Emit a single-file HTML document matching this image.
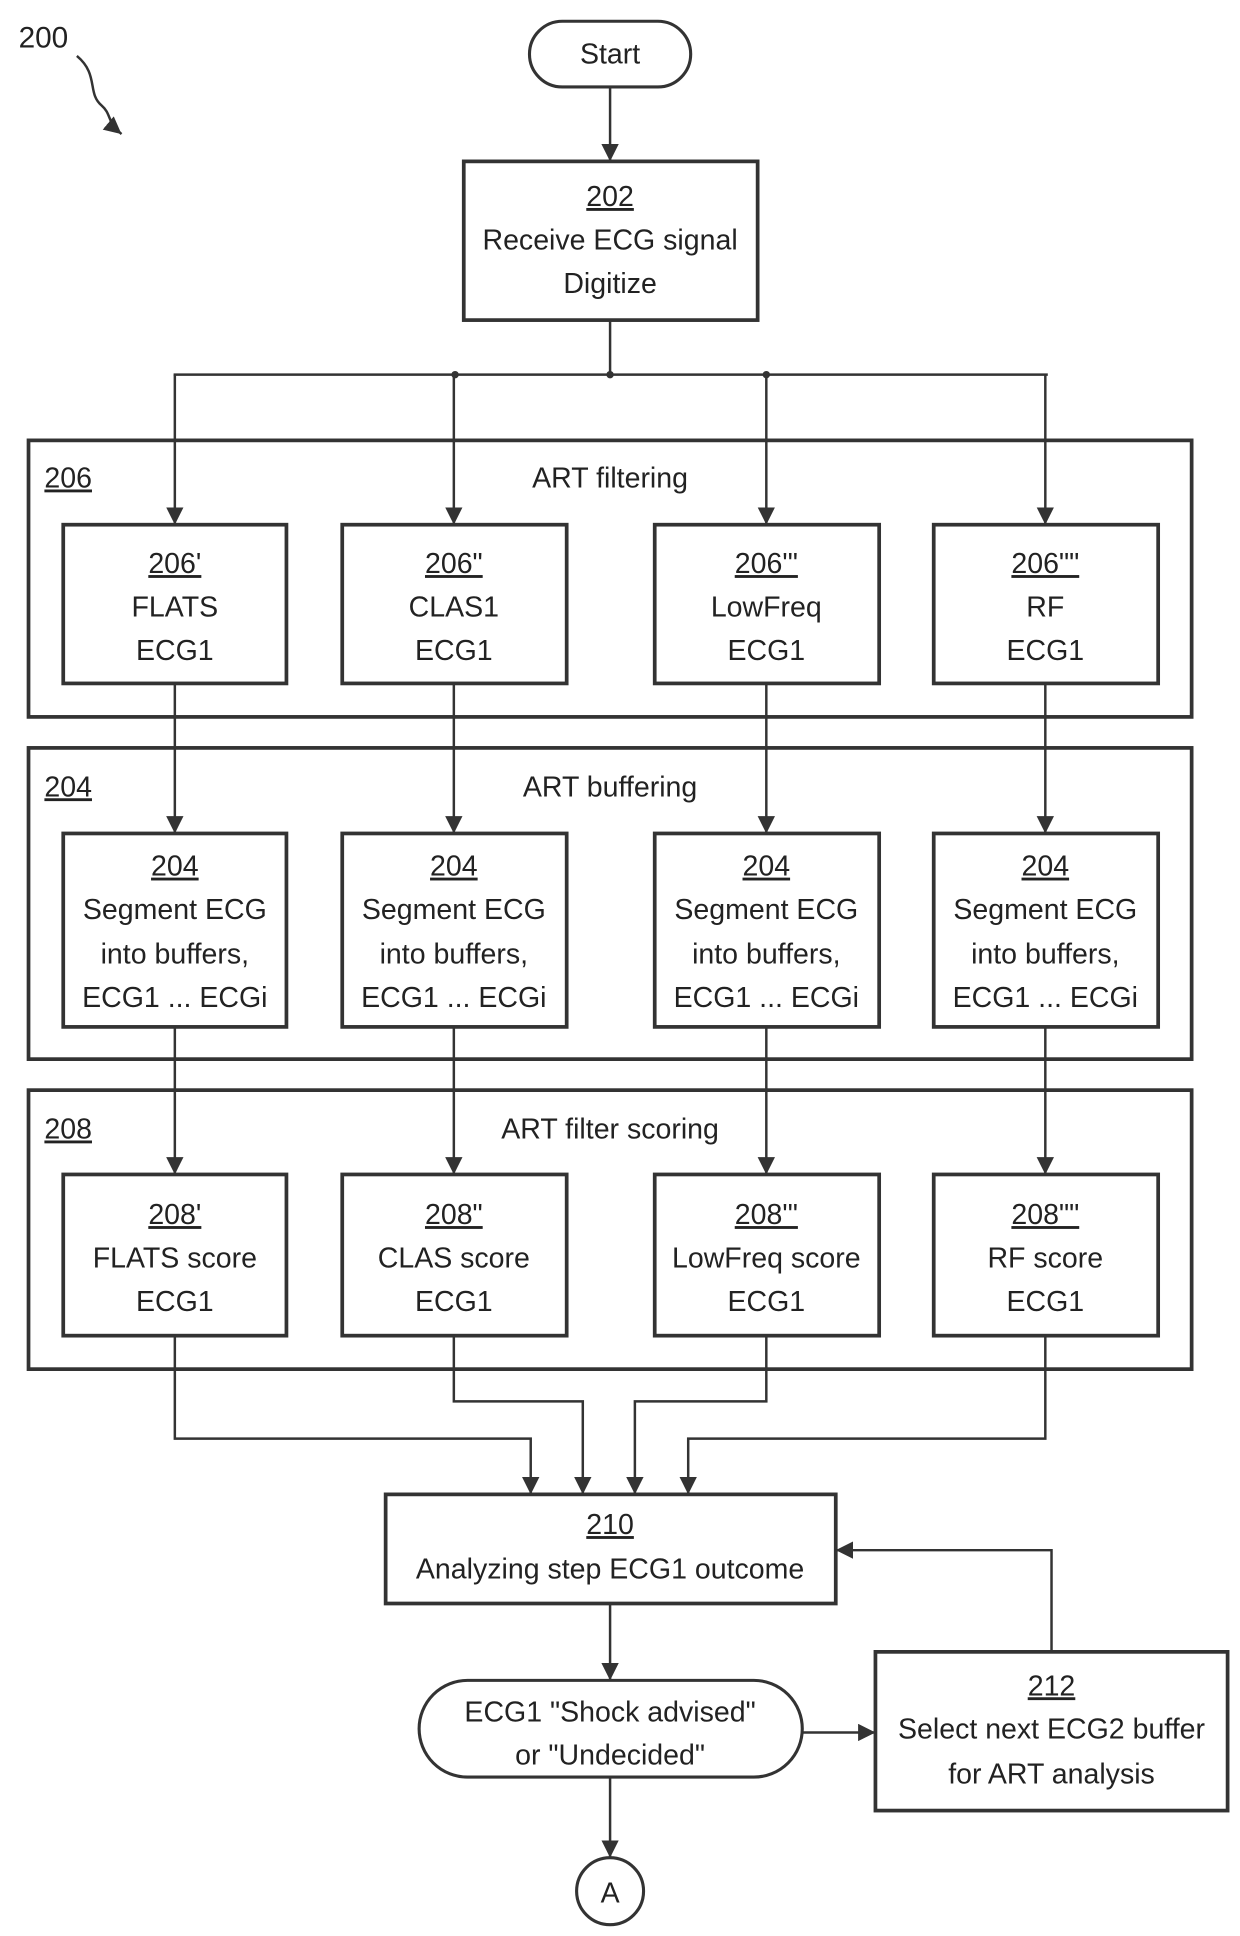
<!DOCTYPE html>
<html><head><meta charset="utf-8"><style>html,body{margin:0;padding:0;background:#fff}svg{display:block}</style></head>
<body>
<svg width="1240" height="1936" viewBox="0 0 1000 1561" xmlns="http://www.w3.org/2000/svg" font-family="'Liberation Sans Narrow','Liberation Sans',sans-serif" font-size="23" fill="#222">
<defs><marker id="a" viewBox="0 0 10 10" refX="10" refY="5" markerWidth="7" markerHeight="7" orient="auto"><path d="M0,0L10,5L0,10z" fill="#333"/></marker></defs>
<g stroke="#333" fill="none" stroke-width="2">
<!-- 200 squiggle -->
<path d="M62,45 C80,60 70,75 82,85 C90,92 86,98 98,108" marker-end="url(#a)"/>
<rect x="427" y="17" width="130" height="53" rx="26.5" stroke-width="2.5"/>
<line x1="492" y1="70" x2="492" y2="130" marker-end="url(#a)"/>
<rect x="374" y="130" width="237" height="128" stroke-width="3"/>
<line x1="492" y1="258" x2="492" y2="302"/>
<line x1="140" y1="302" x2="845" y2="302"/>
<line x1="141" y1="302" x2="141" y2="423" marker-end="url(#a)"/>
<line x1="366" y1="302" x2="366" y2="423" marker-end="url(#a)"/>
<line x1="618" y1="302" x2="618" y2="423" marker-end="url(#a)"/>
<line x1="843" y1="302" x2="843" y2="423" marker-end="url(#a)"/>
<rect x="23" y="355" width="938" height="223" stroke-width="3"/>
<rect x="23" y="603" width="938" height="251" stroke-width="3"/>
<rect x="23" y="879" width="938" height="225" stroke-width="3"/>
<g stroke-width="3">
<rect x="51" y="423" width="180" height="128"/><rect x="276" y="423" width="181" height="128"/><rect x="528" y="423" width="181" height="128"/><rect x="753" y="423" width="181" height="128"/>
<rect x="51" y="672" width="180" height="156"/><rect x="276" y="672" width="181" height="156"/><rect x="528" y="672" width="181" height="156"/><rect x="753" y="672" width="181" height="156"/>
<rect x="51" y="947" width="180" height="130"/><rect x="276" y="947" width="181" height="130"/><rect x="528" y="947" width="181" height="130"/><rect x="753" y="947" width="181" height="130"/>
</g>
<line x1="141" y1="551" x2="141" y2="672" marker-end="url(#a)"/>
<line x1="366" y1="551" x2="366" y2="672" marker-end="url(#a)"/>
<line x1="618" y1="551" x2="618" y2="672" marker-end="url(#a)"/>
<line x1="843" y1="551" x2="843" y2="672" marker-end="url(#a)"/>
<line x1="141" y1="828" x2="141" y2="947" marker-end="url(#a)"/>
<line x1="366" y1="828" x2="366" y2="947" marker-end="url(#a)"/>
<line x1="618" y1="828" x2="618" y2="947" marker-end="url(#a)"/>
<line x1="843" y1="828" x2="843" y2="947" marker-end="url(#a)"/>
<path d="M141,1077V1160H428V1205" marker-end="url(#a)"/>
<path d="M366,1077V1130H470V1205" marker-end="url(#a)"/>
<path d="M618,1077V1130H512V1205" marker-end="url(#a)"/>
<path d="M843,1077V1160H555V1205" marker-end="url(#a)"/>
<rect x="311" y="1205" width="363" height="88" stroke-width="3"/>
<line x1="492" y1="1293" x2="492" y2="1355" marker-end="url(#a)"/>
<rect x="338" y="1355" width="309" height="78" rx="39" stroke-width="2.5"/>
<line x1="647" y1="1397" x2="706" y2="1397" marker-end="url(#a)"/>
<rect x="706" y="1332" width="284" height="128" stroke-width="3"/>
<path d="M848,1332V1250H674" marker-end="url(#a)"/>
<line x1="492" y1="1433" x2="492" y2="1498" marker-end="url(#a)"/>
<circle cx="492" cy="1525" r="27" stroke-width="2.5"/>
</g>
<g fill="#333"><circle cx="492" cy="302" r="3"/><circle cx="367" cy="302" r="3"/><circle cx="618" cy="302" r="3"/></g>
<g text-anchor="middle">
<text x="35" y="38" font-size="24">200</text>
<text x="492" y="51">Start</text>
<text x="492" y="166" text-decoration="underline">202</text><text x="492" y="201">Receive ECG signal</text><text x="492" y="236">Digitize</text>
<text x="55" y="393" text-decoration="underline">206</text><text x="492" y="393">ART filtering</text>
<text x="55" y="642" text-decoration="underline">204</text><text x="492" y="642">ART buffering</text>
<text x="55" y="918" text-decoration="underline">208</text><text x="492" y="918">ART filter scoring</text>
<text x="141" y="462" text-decoration="underline">206'</text><text x="141" y="497">FLATS</text><text x="141" y="532">ECG1</text>
<text x="366" y="462" text-decoration="underline">206"</text><text x="366" y="497">CLAS1</text><text x="366" y="532">ECG1</text>
<text x="618" y="462" text-decoration="underline">206'"</text><text x="618" y="497">LowFreq</text><text x="618" y="532">ECG1</text>
<text x="843" y="462" text-decoration="underline">206""</text><text x="843" y="497">RF</text><text x="843" y="532">ECG1</text>
<g>
<text x="141" y="706" text-decoration="underline">204</text><text x="141" y="741">Segment ECG</text><text x="141" y="777">into buffers,</text><text x="141" y="812">ECG1 ... ECGi</text>
<text x="366" y="706" text-decoration="underline">204</text><text x="366" y="741">Segment ECG</text><text x="366" y="777">into buffers,</text><text x="366" y="812">ECG1 ... ECGi</text>
<text x="618" y="706" text-decoration="underline">204</text><text x="618" y="741">Segment ECG</text><text x="618" y="777">into buffers,</text><text x="618" y="812">ECG1 ... ECGi</text>
<text x="843" y="706" text-decoration="underline">204</text><text x="843" y="741">Segment ECG</text><text x="843" y="777">into buffers,</text><text x="843" y="812">ECG1 ... ECGi</text>
</g>
<text x="141" y="987" text-decoration="underline">208'</text><text x="141" y="1022">FLATS score</text><text x="141" y="1057">ECG1</text>
<text x="366" y="987" text-decoration="underline">208"</text><text x="366" y="1022">CLAS score</text><text x="366" y="1057">ECG1</text>
<text x="618" y="987" text-decoration="underline">208'"</text><text x="618" y="1022">LowFreq score</text><text x="618" y="1057">ECG1</text>
<text x="843" y="987" text-decoration="underline">208""</text><text x="843" y="1022">RF score</text><text x="843" y="1057">ECG1</text>
<text x="492" y="1237" text-decoration="underline">210</text><text x="492" y="1273">Analyzing step ECG1 outcome</text>
<text x="492" y="1388">ECG1 "Shock advised"</text><text x="492" y="1423">or "Undecided"</text>
<text x="848" y="1367" text-decoration="underline">212</text><text x="848" y="1402">Select next ECG2 buffer</text><text x="848" y="1438">for ART analysis</text>
<text x="492" y="1534">A</text>
</g>
</svg>
</body></html>
